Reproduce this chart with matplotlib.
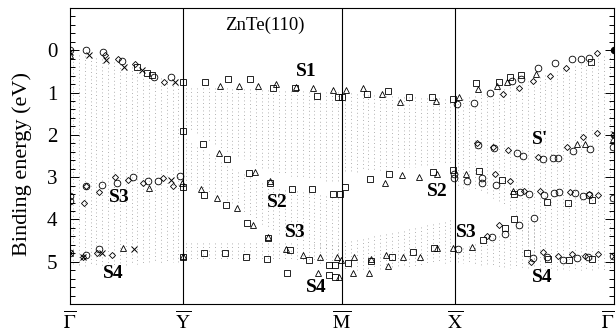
import numpy as np
import matplotlib
matplotlib.use("Agg")
import matplotlib.pyplot as plt
from matplotlib.ticker import MultipleLocator

plt.rcParams["font.family"] = ["Liberation Serif", "DejaVu Serif"]
plt.rcParams["mathtext.fontset"] = "stix"

# Symmetry points along the surface Brillouin-zone path (units of pi/a)
K_Y = 1.0
K_M = 1.0 + np.sqrt(2.0)
K_X = 2.0 + np.sqrt(2.0)
K_G2 = 2.0 + 2.0 * np.sqrt(2.0)
sym_pos = [0.0, K_Y, K_M, K_X, K_G2]
sym_labels = [r"$\overline{\mathrm{\Gamma}}$", r"$\overline{\mathrm{Y}}$",
              r"$\overline{\mathrm{M}}$", r"$\overline{\mathrm{X}}$",
              r"$\overline{\mathrm{\Gamma}}$"]

# Projected bulk-band regions: k nodes with upper / lower energy edges (eV)
gy_k = [0.00, 0.30, 0.60, 1.00]
gy_top = [0.08, 0.20, 0.45, 0.85]
gy_bot = [5.10, 5.10, 5.05, 5.00]

ym1_k = [1.00, 1.40, 1.80, K_M]
ym1_top = [0.90, 0.90, 0.95, 1.00]
ym1_bot = [1.80, 2.40, 2.90, 3.15]

ym2_k = [1.00, 1.40, 1.80, K_M]
ym2_top = [2.05, 2.75, 3.25, 3.50]
ym2_bot = [3.10, 3.55, 4.30, 4.85]

ym3_k = [1.00, 1.70, K_M]
ym3_top = [4.55, 4.55, 4.60]
ym3_bot = [4.95, 4.95, 5.05]

mx1_k = [K_M, 2.90, K_X]
mx1_top = [1.00, 1.10, 1.15]
mx1_bot = [2.90, 2.80, 2.65]

mx2_k = [K_M, 2.90, K_X]
mx2_top = [4.55, 4.30, 4.00]
mx2_bot = [5.20, 5.15, 5.00]

xg1_k = [K_X, 3.70, 3.95, 4.15, 4.50, K_G2]
xg1_top = [1.20, 1.00, 0.85, 0.65, 0.35, 0.05]
xg1_bot = [3.20, 3.40, 3.85, 5.20, 5.20, 5.20]

xg2_k = [K_X, 3.70, 4.15]
xg2_top = [4.75, 4.50, 4.00]
xg2_bot = [5.00, 5.10, 5.20]

bulk_regions = [
    (gy_k, gy_top, gy_bot), (ym1_k, ym1_top, ym1_bot), (ym2_k, ym2_top, ym2_bot),
    (ym3_k, ym3_top, ym3_bot), (mx1_k, mx1_top, mx1_bot), (mx2_k, mx2_top, mx2_bot),
    (xg1_k, xg1_top, xg1_bot), (xg2_k, xg2_top, xg2_bot),
]

# Measured surface-state binding energies, grouped by symbol
circ_k = [0.00, 0.142, 0.293, 0.461, 0.745, 0.896,
          0.00, 0.00, 0.142, 0.284, 0.417, 0.559, 0.692, 0.781, 0.976,
          0.00, 0.142, 0.257,
          3.434, 3.407, 3.407, 3.523, 3.443,
          3.585, 3.727, 3.922, 4.002, 4.153, 4.303, 4.454, 4.534, 4.605,
          3.620, 3.762, 3.966, 4.020, 4.197, 4.286, 4.330, 4.463, 4.614, 4.818,
          3.656, 3.656, 3.780, 3.993, 4.073, 4.206, 4.295, 4.339, 4.481, 4.552, 4.605, 4.818,
          3.744, 3.860, 3.984, 4.117,
          4.108, 4.232, 4.374, 4.499, 4.596, 4.818]
circ_e = [0.00, 0.00, 0.05, 0.25, 0.62, 0.62,
          3.45, 3.57, 3.22, 3.18, 3.13, 2.99, 3.09, 3.10, 2.97,
          4.79, 4.85, 4.70,
          1.27, 2.92, 3.02, 3.10, 4.69,
          1.25, 1.00, 0.72, 0.67, 0.42, 0.30, 0.21, 0.21, 0.18,
          2.25, 2.32, 2.44, 2.50, 2.58, 2.55, 2.55, 2.37, 2.34, 2.28,
          3.03, 3.13, 3.18, 3.35, 3.40, 3.42, 3.38, 3.35, 3.38, 3.45, 3.42, 3.50,
          4.42, 4.34, 4.13, 3.96,
          4.91, 4.88, 4.96, 4.91, 4.88, 4.86]

sq_k = [0.594, 0.683, 0.728, 1.00, 1.00, 1.00, 1.00,
        1.198, 1.402, 1.597, 1.801, 1.996, 2.192, 2.378, 2.414,
        2.635, 2.822, 3.008, 3.212, 3.398,
        1.180, 1.393, 1.588, 1.775, 1.970, 2.147, 2.334, 2.396, 2.440,
        1.189, 1.384, 1.571, 1.757, 1.952, 2.121, 2.298, 2.351,
        1.189, 1.375, 1.562, 1.748,
        1.925, 2.298, 2.351,
        2.467, 2.671, 2.857, 3.043, 3.230,
        2.662, 2.831, 3.221, 3.398, 3.629,
        3.602, 3.807, 3.904, 4.002, 4.623,
        3.833, 3.940, 4.232, 4.419, 4.632,
        3.665, 3.860, 3.940,
        4.055, 4.241, 4.428, 4.632]
sq_e = [0.40, 0.54, 0.58, 0.74, 1.91, 3.23, 4.88,
        0.74, 0.68, 0.68, 0.90, 0.90, 1.07, 1.10, 1.10,
        1.04, 0.97, 1.10, 1.10, 1.16,
        2.22, 2.58, 2.90, 3.13, 3.28, 3.28, 3.40, 3.40, 3.23,
        3.42, 3.66, 4.08, 4.44, 4.72, 4.96, 5.07, 5.07,
        4.80, 4.80, 4.88, 4.93,
        5.27, 5.32, 5.37,
        5.03, 4.98, 4.90, 4.78, 4.68,
        3.04, 2.93, 2.88, 2.83, 2.85,
        0.78, 0.75, 0.63, 0.58, 0.27,
        3.07, 3.40, 3.58, 3.60, 3.53,
        4.48, 4.20, 3.99,
        4.79, 4.94, 4.96, 4.94]

tri_k = [0.00, 0.701, 0.994, 0.470, 1.00,
         1.331, 1.500, 1.668, 1.828, 2.005, 2.156, 2.334, 2.449, 2.600, 2.768,
         2.928, 3.248, 3.452, 3.620, 3.789, 3.878, 4.135,
         1.322, 1.642, 1.775,
         1.162, 1.304, 1.482, 1.624, 1.757, 1.917, 2.067, 2.218, 2.369, 2.405,
         2.201, 2.387, 2.511, 2.653, 2.822,
         2.520, 2.671, 2.804, 2.955, 3.106, 3.256, 3.398, 3.567,
         2.795, 2.946, 3.097, 3.256, 3.514,
         3.931, 4.499, 4.570, 4.818]
tri_e = [0.12, 3.25, 3.14, 4.68, 4.86,
         0.84, 0.84, 0.84, 0.80, 0.88, 0.90, 0.94, 0.94, 0.90, 1.04,
         1.22, 1.20, 1.10, 0.92, 0.84, 0.75, 0.56,
         2.44, 2.87, 3.10,
         3.28, 3.50, 3.73, 4.14, 4.42, 4.70, 4.84, 4.88, 4.88, 4.96,
         5.27, 5.35, 5.27, 5.27, 5.10,
         4.88, 4.94, 4.84, 4.88, 4.88, 4.68, 4.68, 4.65,
         3.13, 2.95, 3.00, 2.92, 2.92,
         3.32, 2.21, 2.21, 2.10]

dia_k = [0.311, 0.426, 0.577, 0.834,
         0.142, 0.124, 0.257, 0.399, 0.515, 0.648, 0.825, 0.914,
         0.115, 0.240, 0.373,
         3.842, 3.984, 4.108, 4.259, 4.401, 4.676,
         3.611, 3.753, 3.886, 4.153, 4.410, 4.552, 4.676, 4.818,
         3.771, 3.904, 4.028, 4.170, 4.437, 4.605, 4.685,
         3.700, 3.807,
         4.091, 4.197, 4.330, 4.454, 4.570, 4.685]
dia_e = [0.10, 0.20, 0.33, 0.75,
         3.20, 3.60, 3.35, 2.99, 3.06, 3.14, 3.03, 3.22,
         4.88, 4.80, 4.83,
         1.03, 0.89, 0.72, 0.61, 0.42, 0.07,
         2.20, 2.28, 2.35, 2.52, 2.28, 2.04, 1.95, 2.00,
         2.93, 3.09, 3.32, 3.32, 3.35, 3.40, 3.42,
         4.39, 4.13,
         5.00, 4.77, 4.86, 4.82, 4.86, 4.82]

cross_k = [0.00, 0.169, 0.319, 0.479, 0.639, 0.932,
           0.896,
           0.00, 0.115, 0.284, 0.568,
           4.828, 4.828]
cross_e = [0.05, 0.10, 0.23, 0.40, 0.46, 0.75,
           3.06,
           4.79, 4.88, 4.79, 4.70,
           1.98, 4.86]

filled_k = [4.828]
filled_e = [0.00]

# Surface-state labels
state_names = ["S1", "S2", "S3", "S4", "S3", "S4", "S2", "S3", "S'", "S4"]
state_k = [2.10, 1.84, 0.44, 0.38, 2.00, 2.19, 3.26, 3.52, 4.17, 4.19]
state_e = [0.51, 3.59, 3.49, 5.27, 4.32, 5.62, 3.33, 4.32, 2.12, 5.38]

fig = plt.figure(figsize=(6.16, 3.34), dpi=100)
ax = fig.add_axes([70 / 616, 30 / 334, 544 / 616, 296 / 334])

# Stippled columns for the projected bulk bands
dk = 0.052
for kn, top, bot in bulk_regions:
    cols = np.arange(kn[0] + dk * 0.5, kn[-1], dk)
    t = np.interp(cols, kn, top)
    b = np.interp(cols, kn, bot)
    ax.vlines(cols, t, b, colors="0.6", linewidth=0.6,
              linestyles=(0, (1.0, 3.4)), zorder=1)

for k in sym_pos[1:-1]:
    ax.axvline(k, color="black", linewidth=0.8, zorder=2)

mk = dict(linestyle="none", markerfacecolor="none", markeredgecolor="black",
          markeredgewidth=0.6, zorder=3)
ax.plot(circ_k, circ_e, marker="o", markersize=4.8, **mk)
ax.plot(sq_k, sq_e, marker="s", markersize=4.3, **mk)
ax.plot(tri_k, tri_e, marker="^", markersize=4.8, **mk)
ax.plot(dia_k, dia_e, marker="D", markersize=3.1, **mk)
ax.plot(cross_k, cross_e, marker="x", markersize=4.0, linestyle="none",
        color="black", markeredgewidth=0.7, zorder=3)
ax.plot(filled_k, filled_e, marker="o", markersize=4.4, linestyle="none",
        color="black", zorder=4)

for name, k, e in zip(state_names, state_k, state_e):
    ax.text(k, e, name, ha="center", va="center", fontsize=14,
            fontweight="bold", zorder=5)

ax.text(1.73, -0.6, "ZnTe(110)", ha="center", va="center", fontsize=13.5)

ax.set_xlim(0, K_G2)
ax.set_ylim(6, -1)
ax.set_xticks(sym_pos)
ax.set_xticklabels(sym_labels, fontsize=14)
ax.get_xticklabels()[-1].set_horizontalalignment("right")
ax.tick_params(axis="x", length=0, pad=4)
ax.set_yticks(range(6))
ax.yaxis.set_minor_locator(MultipleLocator(0.2))
ax.tick_params(axis="y", which="both", direction="in", left=True, right=True,
               labelsize=15, pad=9, width=0.7)
ax.tick_params(axis="y", which="major", length=6.5)
ax.tick_params(axis="y", which="minor", length=3.6)
for s in ax.spines.values():
    s.set_linewidth(0.8)

fig.text(22 / 616, 1 - 164.5 / 334, "Binding energy (eV)", rotation=90,
         ha="center", va="center", fontsize=16)

fig.savefig("out.png", dpi=100)
